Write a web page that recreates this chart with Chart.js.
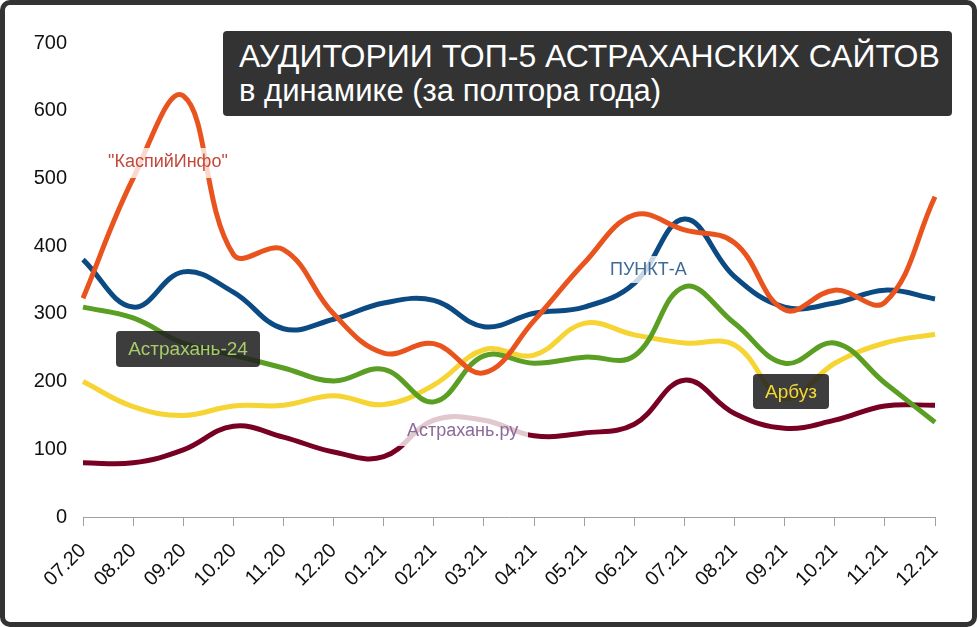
<!DOCTYPE html>
<html>
<head>
<meta charset="utf-8">
<script src="https://cdn.jsdelivr.net/npm/chart.js@4"></script>
<style>
  body { margin: 0; background: #fff; }
  #frame {
    position: relative; width: 977px; height: 627px; box-sizing: border-box;
    border: 5px solid #333; border-radius: 10px; background: #fff; overflow: hidden;
  }
  canvas { position: absolute; left: 0; top: 0; }
  .note { position: absolute; font-family: "Liberation Sans", Arial, sans-serif; white-space: nowrap; }
  .soft { background: rgba(255,255,255,0.78); font-size: 18px; line-height: 18px; }
  .box { background: rgba(34,34,34,0.88); border-radius: 4px; font-size: 19px; text-align: center; }
</style>
</head>
<body>
<div id="frame">
  <canvas id="myChart" width="967" height="617"></canvas>

  <div class="note" style="left:218px;top:26px;width:729px;height:85px;background:#333;border-radius:4px;"></div>
  <div class="note" style="left:234px;top:35px;color:#fff;font-size:32px;line-height:32px;">АУДИТОРИИ ТОП-5 АСТРАХАНСКИХ САЙТОВ</div>
  <div class="note" style="left:234px;top:70px;color:#fff;font-size:31px;line-height:31px;">в динамике (за полтора года)</div>

  <div class="note soft" style="left:97px;top:143px;padding:4px 6px 8px;color:#c4493b;">"КаспийИнфо"</div>
  <div class="note soft" style="left:599px;top:251px;padding:4px 3px 5px 6px;color:#3d6b96;">ПУНКТ-А</div>
  <div class="note soft" style="left:392px;top:409px;padding:7px 10px;color:#8a6a9a;">Астрахань.ру</div>

  <div class="note box" style="left:111px;top:326px;width:144px;height:36px;line-height:36px;color:#a9cc6b;">Астрахань-24</div>
  <div class="note box" style="left:748px;top:369px;width:76px;height:35px;line-height:35px;color:#f3d83a;">Арбуз</div>
</div>

<script>
// months, 07.2020 - 12.2021
const months = ["07.20", "08.20", "09.20", "10.20", "11.20", "12.20", "01.21", "02.21", "03.21",
  "04.21", "05.21", "06.21", "07.21", "08.21", "09.21", "10.21", "11.21", "12.21"];

const kaspiyInfo  = [323, 500, 622, 388, 395, 300, 242, 256, 213, 290, 375, 446, 424, 405, 306, 335, 317, 473];
const punktA      = [380, 310, 362, 332, 278, 292, 316, 320, 281, 301, 310, 345, 440, 355, 310, 316, 335, 322];
const astrakhan24 = [310, 294, 257, 239, 220, 201, 218, 170, 238, 227, 236, 238, 340, 286, 227, 257, 198, 140];
const arbuz       = [200, 163, 150, 164, 165, 179, 166, 195, 247, 239, 286, 269, 257, 254, 175, 227, 257, 270];
const astrakhanRu = [80, 80, 99, 134, 118, 96, 89, 143, 143, 120, 124, 137, 202, 153, 131, 143, 164, 165];

const yTicks = [0, 100, 200, 300, 400, 500, 600, 700];

function line(label, data, color) {
  return {
    label: label,
    data: data,
    borderColor: color,
    backgroundColor: "transparent",
    borderWidth: 5,
    pointRadius: 0,
    tension: 0.4,
    fill: false
  };
}

var ctx = document.getElementById("myChart").getContext("2d");
var chart = new Chart(ctx, {
  type: "line",
  data: {
    labels: months,
    datasets: [
      line('"КаспийИнфо"', kaspiyInfo, "#e9541e"),
      line("ПУНКТ-А", punktA, "#0b4a83"),
      line("Астрахань-24", astrakhan24, "#5a9e23"),
      line("Арбуз", arbuz, "#f5d433"),
      line("Астрахань.ру", astrakhanRu, "#780023")
    ]
  },
  options: {
    responsive: false,
    animation: false,
    devicePixelRatio: 1,
    layout: { padding: { top: 38, right: 37, left: 0, bottom: 0 } },
    plugins: { legend: { display: false }, tooltip: { enabled: false } },
    scales: {
      x: {
        grid: { display: true, drawOnChartArea: false, drawTicks: true, tickLength: 9, color: "#a0a0a0" },
        border: { display: true, color: "#a0a0a0", width: 1 },
        ticks: {
          autoSkip: false, maxRotation: 45, minRotation: 45, padding: 13,
          color: "#111", font: { family: "Liberation Sans", size: 20 }
        },
        afterFit: function (scale) { scale.height = 105; }
      },
      y: {
        min: 0, max: 700,
        grid: { display: false, drawTicks: false },
        border: { display: false },
        afterBuildTicks: function (scale) { scale.ticks = yTicks.map(function (v) { return { value: v }; }); },
        ticks: { padding: 16, color: "#111", font: { family: "Liberation Sans", size: 20 } },
        afterFit: function (scale) { scale.width = 78; }
      }
    }
  }
});
</script>
</body>
</html>
